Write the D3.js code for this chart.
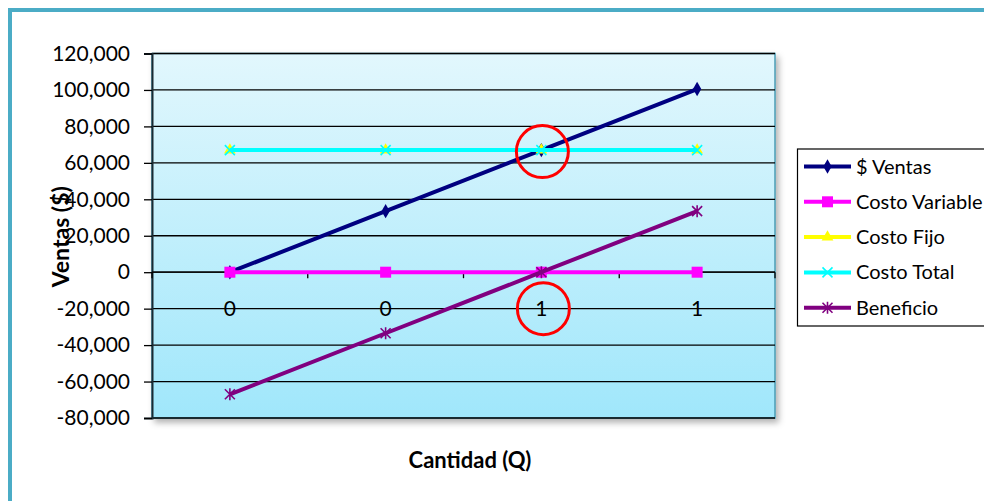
<!DOCTYPE html>
<html><head><meta charset="utf-8">
<script src="https://cdn.jsdelivr.net/npm/d3@7/dist/d3.min.js"></script>
<style>body{margin:0;background:#fff}svg{display:block}text{font-family:Lato,"Open Sans",sans-serif}</style>
</head><body><svg id="c" width="984" height="501"></svg>
<script>
const categories = ["0", "0", "1", "1"];
const ventas = [0, 33500, 67000, 100500];
const costoVariable = [0, 0, 0, 0];
const costoFijo = [67000, 67000, 67000, 67000];
const costoTotal = [67000, 67000, 67000, 67000];
const beneficio = [-67000, -33500, 0, 33500];
const yTicks = [-80000, -60000, -40000, -20000, 0, 20000, 40000, 60000, 80000, 100000, 120000];
const seriesNames = ["$ Ventas", "Costo Variable", "Costo Fijo", "Costo Total", "Beneficio"];
const seriesColors = ["#000080", "#FF00FF", "#FFFF00", "#00FFFF", "#800080"];
const seriesMarkers = ["diamond", "square", "triangle", "x", "star"];
const seriesValues = [ventas, costoVariable, costoFijo, costoTotal, beneficio];

const svg = d3.select("#c");
const L = 152, R = 775, T = 53.5, B = 418;

// outer border
svg.append("rect").attr("x", 10).attr("y", 10).attr("width", 1000).attr("height", 520)
  .attr("fill", "none").attr("stroke", "#4BACC6").attr("stroke-width", 4);

const defs = svg.append("defs");
const g = defs.append("linearGradient").attr("id", "bg").attr("x1", 0).attr("y1", 0).attr("x2", 0).attr("y2", 1);
g.append("stop").attr("offset", "0%").attr("stop-color", "#E2F7FD");
g.append("stop").attr("offset", "100%").attr("stop-color", "#A0E7FB");
const f = defs.append("filter").attr("id", "sh").attr("x", "-5%").attr("y", "-5%").attr("width", "115%").attr("height", "120%");
f.append("feDropShadow").attr("dx", 3).attr("dy", 4).attr("stdDeviation", 3).attr("flood-color", "#000").attr("flood-opacity", 0.3);

const x = d3.scaleBand().domain(d3.range(categories.length)).range([L, R]);
const y = d3.scaleLinear().domain([-80000, 120000]).range([B, T]);

svg.append("rect").attr("x", L).attr("y", T).attr("width", R - L).attr("height", B - T)
  .attr("fill", "url(#bg)").attr("stroke", "#4A9DB5").attr("stroke-width", 1.5).attr("filter", "url(#sh)");

// gridlines
svg.append("g").selectAll("line").data(yTicks).join("line")
  .attr("x1", L).attr("x2", R).attr("y1", d => y(d)).attr("y2", d => y(d))
  .attr("stroke", "#000").attr("stroke-width", 1.3);

// y axis
const fmt = d3.format(",");
const ya = svg.append("g").attr("transform", `translate(${L},0)`)
  .call(d3.axisLeft(y).tickValues(yTicks).tickSize(8).tickPadding(14).tickFormat(d => fmt(d).replace("\u2212", "-")));
ya.select(".domain").attr("stroke", "#1a2a33").attr("stroke-width", 2);
ya.selectAll(".tick line").attr("stroke", "#000").attr("stroke-width", 1.3);
ya.selectAll("text").attr("font-size", 21).attr("fill", "#000").style("font-family", "Lato");

// x axis at zero
svg.append("line").attr("x1", L).attr("x2", R).attr("y1", y(0)).attr("y2", y(0)).attr("stroke", "#000").attr("stroke-width", 1.3);
svg.append("g").selectAll("line").data(d3.range(categories.length + 1)).join("line")
  .attr("x1", d => L + d * x.step()).attr("x2", d => L + d * x.step())
  .attr("y1", y(0)).attr("y2", y(0) + 6).attr("stroke", "#000").attr("stroke-width", 1.3);
svg.append("g").selectAll("text").data(categories).join("text")
  .attr("x", (d, i) => x(i) + x.bandwidth() / 2).attr("y", y(-20000))
  .attr("dy", "0.35em").attr("text-anchor", "middle").attr("font-size", 21).text(d => d);

function marker(sel, type, color, cx, cy) {
  if (type === "diamond") sel.append("path").attr("d", d3.symbol(d3.symbolDiamond, 60)()).attr("transform", `translate(${cx},${cy})`).attr("fill", color);
  else if (type === "square") sel.append("rect").attr("x", cx - 5.5).attr("y", cy - 5.5).attr("width", 11).attr("height", 11).attr("fill", color);
  else if (type === "triangle") sel.append("path").attr("d", d3.symbol(d3.symbolTriangle, 60)()).attr("transform", `translate(${cx},${cy})`).attr("fill", color);
  else if (type === "x") sel.append("path").attr("d", `M${cx-5},${cy-5}L${cx+5},${cy+5}M${cx-5},${cy+5}L${cx+5},${cy-5}`).attr("stroke", color).attr("stroke-width", 1.6);
  else if (type === "star") sel.append("path").attr("d", `M${cx-5},${cy-5}L${cx+5},${cy+5}M${cx-5},${cy+5}L${cx+5},${cy-5}M${cx},${cy-6}L${cx},${cy+6}`).attr("stroke", color).attr("stroke-width", 1.6);
}

const line = d3.line().x((d, i) => x(i) + x.bandwidth() / 2).y(d => y(d));
seriesValues.forEach((vals, s) => {
  const gs = svg.append("g");
  gs.append("path").datum(vals).attr("d", line).attr("fill", "none")
    .attr("stroke", seriesColors[s]).attr("stroke-width", 4);
  vals.forEach((v, i) => marker(gs, seriesMarkers[s], seriesColors[s], x(i) + x.bandwidth() / 2, y(v)));
});

// highlight circles
svg.append("circle").attr("cx", x(2) + x.bandwidth() / 2 + 1).attr("cy", y(67000) + 1.5).attr("r", 26)
  .attr("fill", "none").attr("stroke", "#FF0000").attr("stroke-width", 3);
svg.append("circle").attr("cx", x(2) + x.bandwidth() / 2 + 2).attr("cy", y(-20000)).attr("r", 26)
  .attr("fill", "none").attr("stroke", "#FF0000").attr("stroke-width", 3);

// axis titles
svg.append("text").attr("transform", `translate(61,${(T + B) / 2 + 1}) rotate(-90)`)
  .attr("text-anchor", "middle").attr("dy", "0.35em").attr("font-size", 23).attr("font-weight", "bold").text("Ventas ($)");
svg.append("text").attr("x", 470).attr("y", 460).attr("dy", "0.35em")
  .attr("text-anchor", "middle").attr("font-size", 22).attr("font-weight", "bold").text("Cantidad (Q)");

// legend
const lg = svg.append("g");
lg.append("rect").attr("x", 797.5).attr("y", 149).attr("width", 200).attr("height", 177)
  .attr("fill", "#fff").attr("stroke", "#000").attr("stroke-width", 1.2);
seriesNames.forEach((n, s) => {
  const ly = 166.5 + s * 35.3;
  lg.append("line").attr("x1", 804).attr("x2", 851).attr("y1", ly).attr("y2", ly)
    .attr("stroke", seriesColors[s]).attr("stroke-width", 4);
  marker(lg, seriesMarkers[s], seriesColors[s], 827.5, ly);
  lg.append("text").attr("x", 856).attr("y", ly).attr("dy", "0.35em").attr("font-size", 20).text(n);
});
</script></body></html>
